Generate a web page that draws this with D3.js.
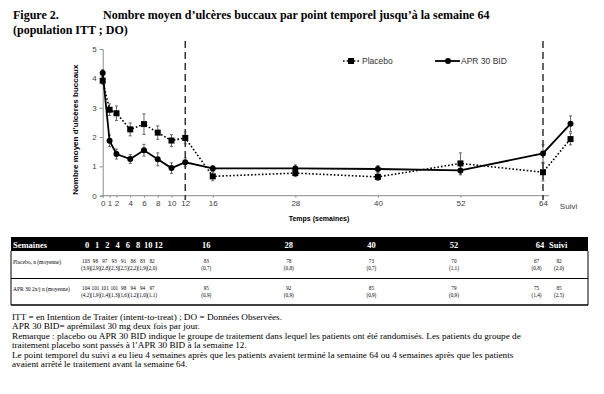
<!DOCTYPE html>
<html>
<head>
<meta charset="utf-8">
<script src="https://cdn.jsdelivr.net/npm/d3@7"></script>
<style>
  body { margin: 0; background: #fff; }
  svg { display: block; }
  .serif { font-family: "Liberation Serif", "Times New Roman", serif; }
  .sans { font-family: "Liberation Sans", Arial, sans-serif; }
</style>
</head>
<body>
<svg id="chart" width="604" height="394"></svg>
<script>
// --- data ---
let weeks = [0, 1, 2, 4, 6, 8, 10, 12, 16, 28, 40, 52, 64, 68]; // 68 = Suivi
let xTicks = [0, 1, 2, 4, 6, 8, 10, 12, 16, 28, 40, 52, 64];
let placeboMean = [3.92, 2.93, 2.81, 2.26, 2.44, 2.15, 1.88, 1.97, 0.66, 0.77, 0.64, 1.10, 0.80, 1.93];
let placeboErr = [0.12, 0.2, 0.25, 0.22, 0.35, 0.23, 0.2, 0.2, 0.15, 0.12, 0.12, 0.36, 0.3, 0.2];
let aprMean = [4.18, 1.87, 1.42, 1.25, 1.55, 1.24, 0.94, 1.14, 0.93, 0.93, 0.91, 0.86, 1.44, 2.45];
let aprErr = [0.12, 0.2, 0.17, 0.15, 0.2, 0.22, 0.18, 0.15, 0.1, 0.12, 0.12, 0.15, 0.3, 0.27];

let tableCols = ['0', '1', '2', '4', '6', '8', '10', '12', '16', '28', '40', '52', '64', 'Suivi'];
let placeboN = ['103', '98', '97', '93', '91', '86', '83', '82', '83', '78', '73', '70', '67', '82'];
let placeboM = ['(3,9)', '(2,9)', '(2,8)', '(2,3)', '(2,5)', '(2,2)', '(1,9)', '(2,0)', '(0,7)', '(0,8)', '(0,7)', '(1,1)', '(0,8)', '(2,0)'];
let aprN = ['104', '101', '101', '101', '98', '94', '94', '97', '95', '92', '85', '79', '75', '85'];
let aprM = ['(4,2)', '(1,9)', '(1,4)', '(1,3)', '(1,6)', '(1,2)', '(1,0)', '(1,1)', '(0,9)', '(0,9)', '(0,9)', '(0,9)', '(1,4)', '(2,5)'];

let footnotes = [
    'ITT = en Intention de Traiter (intent-to-treat) ; DO = Données Observées.',
    'APR 30 BID= aprémilast 30 mg deux fois par jour.',
    'Remarque : placebo ou APR 30 BID indique le groupe de traitement dans lequel les patients ont été randomisés. Les patients du groupe de',
    'traitement placebo sont passés à l\u2019APR 30 BID à la semaine 12.',
    'Le point temporel du suivi a eu lieu 4 semaines après que les patients avaient terminé la semaine 64 ou 4 semaines après que les patients',
    'avaient arrêté le traitement avant la semaine 64.'
];

let svg = d3.select('#chart');

// title
let title = svg.append('g').attr('class', 'serif').style('font-weight', 'bold').style('font-size', '12px');
title.append('text').attr('x', 13).attr('y', 19).text('Figure 2.');
title.append('text').attr('x', 103).attr('y', 19)
    .text('Nombre moyen d\u2019ulcères buccaux par point temporel jusqu\u2019à la semaine 64');
title.append('text').attr('x', 13).attr('y', 34).text('(population ITT ; DO)');

// scales
let x = d3.scaleLinear().domain([0, 64]).range([102.7, 543]);
let y = d3.scaleLinear().domain([0, 5]).range([195.7, 49]);

let plot = svg.append('g').attr('class', 'sans');

// y axis
let yAxis = plot.append('g')
    .attr('transform', `translate(${x(0)},0)`)
    .call(d3.axisLeft(y).ticks(5).tickSize(3).tickPadding(3));
yAxis.select('.domain').attr('stroke', '#8c8c8c');
yAxis.selectAll('.tick line').attr('stroke', '#8c8c8c');
yAxis.selectAll('text').style('font-size', '8px').attr('fill', '#404040')
    .attr('font-family', '"Liberation Sans", Arial, sans-serif');

// x axis
let xAxis = plot.append('g')
    .attr('transform', `translate(0,${y(0)})`)
    .call(d3.axisBottom(x).tickValues(xTicks).tickSize(2).tickPadding(3).tickSizeOuter(0));
xAxis.select('.domain').attr('stroke', '#8c8c8c').attr('d', `M${x(0)},0H${x(64) + 6}`);
xAxis.selectAll('.tick line').attr('stroke', '#8c8c8c');
xAxis.selectAll('text').style('font-size', '8px').attr('fill', '#404040')
    .attr('font-family', '"Liberation Sans", Arial, sans-serif');
plot.append('text')
    .attr('x', x(68) - 2).attr('y', y(0) + 13)
    .attr('text-anchor', 'middle')
    .style('font-size', '8px').attr('fill', '#404040')
    .text('Suivi');

// axis titles
plot.append('text')
    .attr('transform', `translate(78,${y(2.25)}) rotate(-90)`)
    .attr('text-anchor', 'middle')
    .style('font-size', '8px').style('font-weight', 'bold')
    .text('Nombre moyen d\u2019ulcères buccaux');
plot.append('text')
    .attr('x', 319).attr('y', 221)
    .attr('text-anchor', 'middle')
    .style('font-size', '7px').style('font-weight', 'bold')
    .text('Temps (semaines)');

// vertical dashed lines at 12 and 64
[12, 64].forEach(w => {
    plot.append('line')
        .attr('x1', x(w)).attr('x2', x(w))
        .attr('y1', 41).attr('y2', 200)
        .attr('stroke', '#333').attr('stroke-width', 1.5)
        .attr('stroke-dasharray', '7,4');
});

// series
let placebo = weeks.map((w, i) => ({w: w, v: placeboMean[i], e: placeboErr[i]}));
let apr = weeks.map((w, i) => ({w: w, v: aprMean[i], e: aprErr[i]}));
let line = d3.line().x(d => x(d.w)).y(d => y(d.v));

function draw_errors(data) {
    let g = plot.append('g').attr('stroke', '#444').attr('stroke-width', 0.8);
    data.forEach(d => {
        g.append('line').attr('x1', x(d.w)).attr('x2', x(d.w))
            .attr('y1', y(d.v + d.e)).attr('y2', y(d.v - d.e));
        g.append('line').attr('x1', x(d.w) - 1.5).attr('x2', x(d.w) + 1.5)
            .attr('y1', y(d.v + d.e)).attr('y2', y(d.v + d.e));
        g.append('line').attr('x1', x(d.w) - 1.5).attr('x2', x(d.w) + 1.5)
            .attr('y1', y(d.v - d.e)).attr('y2', y(d.v - d.e));
    });
}
draw_errors(placebo);
draw_errors(apr);

plot.append('path').datum(placebo)
    .attr('d', line).attr('fill', 'none')
    .attr('stroke', '#000').attr('stroke-width', 1.6)
    .attr('stroke-dasharray', '1.6,2');
plot.append('path').datum(apr)
    .attr('d', line).attr('fill', 'none')
    .attr('stroke', '#000').attr('stroke-width', 1.8);

plot.selectAll('.sq').data(placebo).enter().append('rect')
    .attr('x', d => x(d.w) - 3).attr('y', d => y(d.v) - 3)
    .attr('width', 6).attr('height', 6).attr('fill', '#000');
plot.selectAll('.ci').data(apr).enter().append('circle')
    .attr('cx', d => x(d.w)).attr('cy', d => y(d.v))
    .attr('r', 3).attr('fill', '#000');

// legend
let leg = plot.append('g').style('font-size', '8.5px');
leg.append('line').attr('x1', 343).attr('x2', 359).attr('y1', 61).attr('y2', 61)
    .attr('stroke', '#000').attr('stroke-width', 1.6).attr('stroke-dasharray', '1.6,2');
leg.append('rect').attr('x', 348).attr('y', 58).attr('width', 6).attr('height', 6).attr('fill', '#000');
leg.append('text').attr('x', 362).attr('y', 64).attr('fill', '#333').text('Placebo');
leg.append('line').attr('x1', 435).attr('x2', 460).attr('y1', 61).attr('y2', 61)
    .attr('stroke', '#000').attr('stroke-width', 1.8);
leg.append('circle').attr('cx', 448).attr('cy', 61).attr('r', 3).attr('fill', '#000');
leg.append('text').attr('x', 461).attr('y', 64).attr('fill', '#333').text('APR 30 BID');

// table
let early = d3.scalePoint().domain(tableCols.slice(0, 8)).range([86, 152]);
let earlyHead = d3.scalePoint().domain(tableCols.slice(0, 8)).range([87, 158.5]);
function colX(i) {
    if (i < 8) return early(tableCols[i]);
    if (i < 13) return x(weeks[i]) - 6.5;
    return 559;
}
function headX(i) {
    if (i < 8) return earlyHead(tableCols[i]);
    if (i == 12) return 540;
    if (i == 13) return 549;
    return colX(i);
}
let table = svg.append('g').attr('class', 'serif');
let tLeft = 11, tRight = 588;
table.append('rect').attr('x', tLeft).attr('y', 237).attr('width', tRight - tLeft).attr('height', 14).attr('fill', '#000');
table.append('text').attr('x', 13).attr('y', 247.5).attr('fill', '#fff')
    .style('font-size', '8.5px').style('font-weight', 'bold').text('Semaines');
table.selectAll('.hd').data(tableCols).enter().append('text')
    .attr('x', (d, i) => headX(i))
    .attr('y', 247.5)
    .attr('text-anchor', (d, i) => i == 13 ? 'start' : 'middle')
    .attr('fill', '#fff').style('font-size', '8.5px').style('font-weight', 'bold')
    .text(d => d);

let rows = [
    {label: 'Placebo, n (moyenne)', n: placeboN, m: placeboM, top: 251, bottom: 278.5},
    {label: 'APR 30 2x/j n (moyenne)', n: aprN, m: aprM, top: 278.5, bottom: 305}
];
rows.forEach(r => {
    let mid = (r.top + r.bottom) / 2;
    table.append('text').attr('x', 13).attr('y', mid - 0.5)
        .style('font-size', '5.5px').text(r.label);
    r.n.forEach((v, i) => {
        table.append('text').attr('x', colX(i)).attr('y', mid - 1.5)
            .attr('text-anchor', 'middle').style('font-size', '5.2px').text(v);
        table.append('text').attr('x', colX(i)).attr('y', mid + 5)
            .attr('text-anchor', 'middle').style('font-size', '5.2px').text(r.m[i]);
    });
    table.append('line').attr('x1', tLeft).attr('x2', tRight).attr('y1', r.bottom).attr('y2', r.bottom)
        .attr('stroke', '#000').attr('stroke-width', r.bottom > 300 ? 1.5 : 1);
});
[tLeft, tRight].forEach(xx => {
    table.append('line').attr('x1', xx).attr('x2', xx).attr('y1', 251).attr('y2', 305)
        .attr('stroke', '#000').attr('stroke-width', 1);
});

// footnotes
svg.append('g').attr('class', 'serif').style('font-size', '9.2px')
    .selectAll('text').data(footnotes).enter().append('text')
    .attr('x', 12).attr('y', (d, i) => 320 + i * 9.4)
    .text(d => d);
</script>
</body>
</html>
